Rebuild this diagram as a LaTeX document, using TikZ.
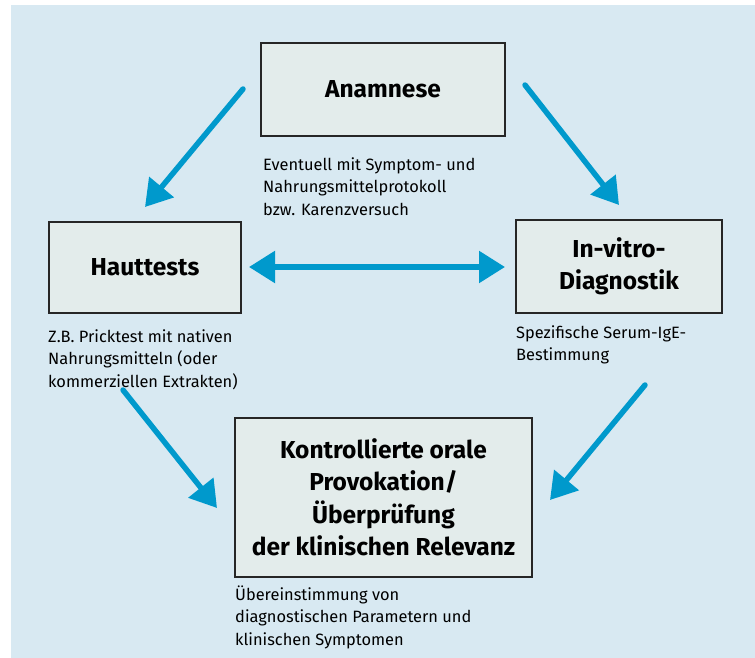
\documentclass[tikz,border=0pt]{standalone}
\usepackage{fontspec}
\setmainfont{Fira Sans}
\usetikzlibrary{arrows.meta}
\definecolor{bgblue}{HTML}{D8E9F2}
\definecolor{boxgray}{HTML}{E3ECEB}
\definecolor{arrowblue}{HTML}{0099CC}
\tikzset{
  stepbox/.style={draw=black!85, line width=1.5pt, fill=boxgray, inner sep=0pt,
    align=center, font=\bfseries\fontsize{24.5}{32.5}\selectfont},
  note/.style={anchor=base west, inner sep=0pt, align=left,
    font=\fontsize{16.4}{22.5}\selectfont},
  bluearrow/.style={arrowblue, line width=5.5pt, line cap=round,
    -{Triangle[length=26pt,width=31pt]}},
  bothway/.style={arrowblue, line width=5.5pt,
    {Triangle[length=26pt,width=31pt]}-{Triangle[length=26pt,width=31pt]}}
}

\begin{document}
\begin{tikzpicture}[x=1pt,y=-1pt]
    \useasboundingbox (0,0) rectangle (755,658);
    \fill[bgblue] (11,5) rectangle (755,658);

    % boxes
    \node[stepbox, minimum width=244pt, minimum height=93pt] (anam) at (383,89.5) {Anamnese};
    \node[stepbox, minimum width=192pt, minimum height=91pt] (haut) at (145,267.5) {Hauttests};
    \node[stepbox, minimum width=206pt, minimum height=93pt] (vitro) at (619,266.5) {In-vitro-\\Diagnostik};
    \node[stepbox, minimum width=297pt, minimum height=159pt] (prov) at (383.5,497.5)
        {Kontrollierte orale\\Provokation/\\Überprüfung\\der klinischen Relevanz};

    % notes (base = last line)
    \node[note] (anamnote) at (263,215) {Eventuell mit Symptom- und\\Nahrungsmittelprotokoll\\bzw. Karenzversuch};
    \node[note] (hautnote) at (48,387) {Z.B. Pricktest mit nativen\\Nahrungsmitteln (oder\\kommerziellen Extrakten)};
    \node[note] (vitronote) at (516,360.5) {Spezifische Serum-IgE-\\Bestimmung};
    \node[note] (provnote) at (235,645) {Übereinstimmung von\\diagnostischen Parametern und\\klinischen Symptomen};

    % arrows
    \coordinate (a1s) at (243,89);  \coordinate (a1e) at (145,207);
    \coordinate (a2s) at (525,85);  \coordinate (a2e) at (619,205);
    \coordinate (a3s) at (249,267); \coordinate (a3e) at (505,267);
    \coordinate (a4s) at (123,390); \coordinate (a4e) at (217,508);
    \coordinate (a5s) at (645,385); \coordinate (a5e) at (550,500);

    \draw[bluearrow] (a1s) -- (a1e);
    \draw[bluearrow] (a2s) -- (a2e);
    \draw[bothway] (a3s) -- (a3e);
    \draw[bluearrow] (a4s) -- (a4e);
    \draw[bluearrow] (a5s) -- (a5e);
\end{tikzpicture}
\end{document}
